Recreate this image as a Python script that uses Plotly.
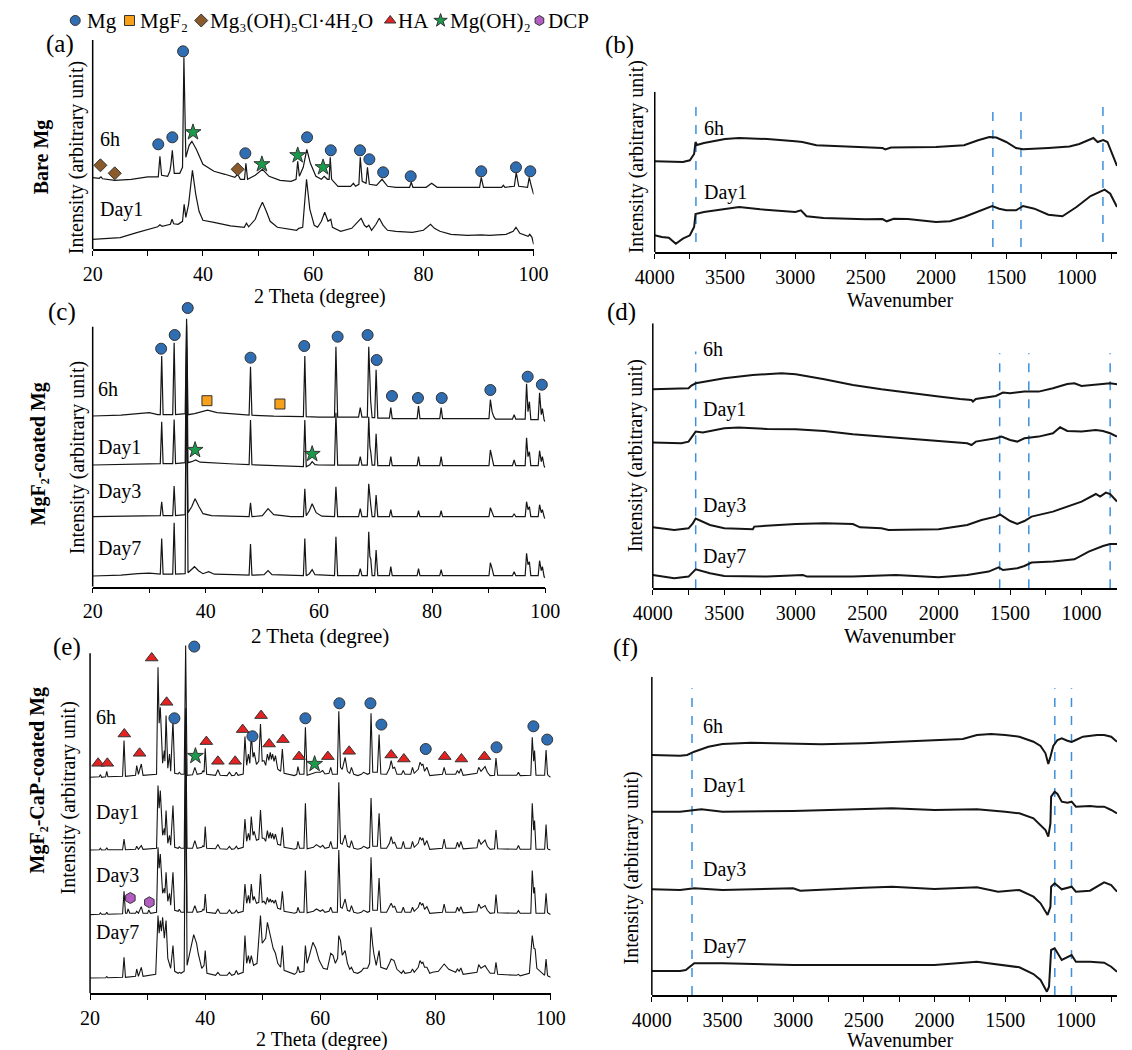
import plotly.graph_objects as go

W, H = 1132, 1050
FONT = "Liberation Serif, Times New Roman, serif"

# ------------------------------------------------------------------ data
# XRD (a) Bare Mg : [2theta, intensity]
A_6H = [[20,71.7],[21.2,71],[21.5,72.5],[21.8,70.5],[24,69],[27,70],[30,72.5],[31.9,72.5],[32.2,93],[32.5,74],
        [33.6,73],[34.0,78],[34.2,85],[34.45,99],[34.8,76],[35.8,76],[36.3,82],[36.55,192],[36.9,92],[37.5,104],
        [38.0,108],[38.8,100],[40,85],[42,78],[44,75],[45.8,72],[46.3,75],[46.8,70],[47.55,70],[47.8,86],
        [48.1,70],[49.5,74],[50.8,80],[52,73],[54,69],[56,68],[56.9,70],[57.2,88],[57.5,73],[58.2,82],
        [58.85,100],[59.5,86],[60.5,73],[61.5,70],[62.0,73],[62.6,70],[62.9,70],[63.1,92],[63.35,70],[64.5,63],
        [66.8,63],[67.3,66],[67.7,63],[68.3,65],[68.55,92],[68.9,68],[69.6,66],[69.85,82],[70.2,65],[71.5,64],
        [72.5,70],[73.5,63],[75,62],[77.5,62],[77.8,67],[78.1,62],[80.5,62],[81.5,66],[82.5,62],[86,62],
        [90.2,62],[90.5,72],[90.9,62],[94.2,62],[94.5,64],[94.8,62],[96.5,63],[96.85,77],[97.3,63],[98.9,62],
        [99.2,72],[99.6,63],[100,55]]
A_DAY1 = [[20,10],[23,11],[25,11.7],[28,16.7],[30,20],[31.8,22.5],[32.2,24.5],[32.6,23],[34.1,25],[34.4,30],
          [34.7,25.5],[35.5,25],[36.3,28],[36.6,45],[36.9,32],[37.4,45],[38.1,79],[38.7,55],[39.3,38],[40,29],
          [42,27],[45,23.5],[47.5,22],[47.9,26],[48.3,22.5],[49.5,30],[50.2,40],[50.8,47],[51.5,38],[52.2,28],
          [53.5,22],[55,21],[57,19],[57.4,21],[58.1,22],[58.8,70],[59.4,40],[60.2,24],[60.8,22],[61.5,28],
          [62.1,37],[62.7,28],[63.2,30],[63.5,22],[65,18],[67,21],[68,27],[68.7,31],[69.3,24],[69.7,22],
          [70.1,24],[70.6,19],[71.4,25],[72.0,31],[72.7,24],[73.5,19],[75,18],[78,17],[80,19],[80.8,23],
          [81.3,25],[82,21],[83,18],[85,15],[88,14],[90.5,14.5],[92,14],[95,15],[96.3,18],[96.8,22],
          [97.5,16],[99,13],[99.3,15],[99.7,12],[100,5]]
A_MG = [[36.4,198],[31.9,105],[34.45,112],[47.7,96],[58.9,112],[63.2,99],[68.5,99],[70.2,90],[72.7,77],
        [77.7,73],[90.5,78],[96.8,82],[99.4,78]]
A_MG3 = [[21.4,84],[24.0,76],[46.3,80]]
A_MGOH = [[38.2,117],[50.7,85],[57.2,94],[61.8,82]]

# FTIR (b) Bare Mg : [wavenumber, intensity]
B_6H = [[4000,90.7],[3900,90],[3800,90],[3750,91.7],[3720,98],[3710,110],[3700,107],[3650,109],[3500,113],
        [3400,114],[3200,113],[3000,110.7],[2950,110],[2850,106.7],[2700,105.7],[2500,105],[2380,104],
        [2360,102.5],[2320,104.5],[2000,105],[1800,106.7],[1700,111.7],[1620,115],[1570,114.5],[1500,110],
        [1430,104],[1380,102.7],[1200,104],[1050,105.5],[980,108],[880,114],[850,110],[810,112],[780,110],
        [740,95],[712,86]]
B_DAY1 = [[4000,16.7],[3950,15],[3900,14.3],[3850,8.3],[3800,13.3],[3750,16.7],[3720,25],[3710,38],[3650,40],
          [3500,43.3],[3400,45],[3250,42.7],[3000,40],[2960,41.7],[2920,35.7],[2800,34],[2500,32.7],[2380,33],
          [2350,30.7],[2300,33.3],[2200,33],[2000,30],[1900,30.7],[1800,35],[1650,43.3],[1600,46],[1550,43.3],
          [1500,41.7],[1430,41.7],[1380,46],[1300,43.3],[1200,37.3],[1100,35.7],[1000,45],[900,56],[800,62.3],
          [760,58.3],[712,45]]
B_DASH = [3707, 1595, 1395, 812]

# XRD (c) MgF2-coated Mg
C_6H = [[20,170.7],[25,171.5],[28,173],[30,174],[31.5,172],[31.95,172],[32.2,230.7],[32.45,172],[34.15,172],
        [34.4,244],[34.65,172],[36.0,172.5],[36.35,173],[36.6,268],[36.85,172],[38,173],[40.3,176.5],[42,174],
        [45,173],[47.65,171.5],[47.9,220],[48.15,171.5],[52,170.5],[55,170],[57.25,170],[57.5,230.7],
        [57.75,170],[60,169.5],[62.75,169.5],[63.0,240],[63.3,169.5],[67.0,169.5],[67.3,179],[67.6,169.5],
        [68.55,169.5],[68.8,240],[69.0,190],[69.15,185],[69.4,169],[69.85,169],[70.1,217],[70.4,168.5],
        [72.45,168.5],[72.7,179],[72.95,168],[77.35,168],[77.6,180.7],[77.85,168],[81.35,168],[81.6,179],
        [81.85,168],[90.05,168],[90.3,187],[90.6,175],[90.9,170],[91.2,167.5],[94.2,167.5],[94.5,172],
        [94.8,167.5],[96.45,167.5],[96.7,203],[96.95,175],[97.2,185],[97.45,167],[98.75,167],[99.0,194],
        [99.3,172],[99.5,178],[99.8,166.7],[100,165]]
C_DAY1 = [[20,121.7],[25,122.5],[30,123.3],[31.95,123],[32.2,165],[32.45,123],[34.15,123],[34.4,167.3],
          [34.65,123],[36.35,124],[36.6,262],[36.85,124],[37.5,125],[38.2,126.7],[39,124.5],[40.3,124],
          [45,122.7],[47.65,122],[47.9,166.7],[48.15,122],[55,120],[57.25,120],[57.5,166.7],[57.75,120],
          [58.4,122],[58.8,125],[59.3,122],[60,121.7],[62.75,121.5],[63.0,174],[63.3,121.5],[67.0,121.5],
          [67.3,130],[67.6,121.5],[68.55,121.5],[68.8,170],[69.0,140],[69.15,135],[69.4,121.5],[69.85,121.5],
          [70.1,153],[70.4,121],[72.45,121],[72.7,130],[72.95,121],[77.35,121],[77.6,130],[77.85,121],
          [81.35,121],[81.6,130],[81.85,121],[90.05,121],[90.3,136.7],[90.6,128],[90.9,121],[94.2,121],
          [94.5,126.7],[94.8,121],[96.45,121],[96.7,149],[96.95,130],[97.2,135],[97.45,121],[98.75,121],
          [99.0,136],[99.3,125],[99.5,130],[99.8,120.7],[100,119]]
C_DAY3 = [[20,70],[25,70.5],[30,71.5],[31.95,71],[32.2,85],[32.45,71],[34.15,71],[34.4,100.7],[34.65,71],
          [36.35,72],[36.6,225],[36.85,74],[37.5,80],[38.1,88],[38.8,80],[39.5,73],[41,71],[45,70.5],
          [47.65,70],[47.9,84],[48.15,70],[50,71],[51,78],[52,72],[55,70],[57.25,70],[57.5,98],[57.75,71],
          [58.3,76],[58.8,83],[59.5,74],[60.5,70.5],[62.75,70],[63.0,100],[63.3,70],[67.0,70],[67.3,78],
          [67.6,70],[68.55,70],[68.8,103],[69.0,85],[69.15,82],[69.4,70],[69.85,70],[70.1,91.7],[70.4,70],
          [72.45,70],[72.7,77],[72.95,70],[77.35,70],[77.6,76],[77.85,70],[81.35,70],[81.6,76],[81.85,70],
          [90.05,70],[90.3,79],[90.6,74],[90.9,70],[94.2,70],[94.5,73],[94.8,70],[96.45,70],[96.7,85],
          [96.95,77],[97.2,80],[97.45,70],[98.75,70],[99.0,82],[99.3,74],[99.5,77],[99.8,70],[100,68]]
C_DAY7 = [[20,10.7],[25,11.5],[28,13],[30,13.5],[31.95,12.5],[32.2,48.3],[32.45,12.5],[34.15,12.5],[34.4,64],
          [34.65,12.5],[36.35,13],[36.6,240],[36.85,14],[37.5,17],[38,20],[38.7,16],[39.5,13],[40.5,15],
          [41.5,12.5],[45,12],[47.65,11.5],[47.9,42.7],[48.15,11.5],[50.3,12],[51,16],[51.7,12],[55,11],
          [57.25,11],[57.5,48.3],[57.75,11],[58.3,13],[58.8,17],[59.3,12],[62.75,11],[63.0,50],[63.3,11],
          [67.0,11],[67.3,18],[67.6,11],[68.55,11],[68.8,55],[69.0,30],[69.15,28],[69.4,11],[69.85,11],
          [70.1,36.7],[70.4,11],[72.45,11],[72.7,20],[72.95,11],[77.35,11],[77.6,18],[77.85,11],[81.35,11],
          [81.6,17],[81.85,11],[90.05,11],[90.3,24],[90.6,18],[90.9,11],[94.2,11],[94.5,15],[94.8,11],
          [96.45,11],[96.7,33.3],[96.95,22],[97.2,25],[97.45,11],[98.75,11],[99.0,26],[99.3,16],[99.5,20],
          [99.8,10],[100,9]]
C_MG = [[32.1,238],[34.5,251.7],[36.8,278.7],[47.9,229],[57.4,240.7],[63.3,250],[68.6,251.7],[70.2,226.7],
        [72.9,190.7],[77.5,188.7],[81.7,188.7],[90.3,196.7],[96.9,210],[99.4,202]]
C_MGF2 = [[40.2,186],[53.1,182.7]]
C_MGOH = [[38.1,136.7],[58.8,132.7]]

# FTIR (d) MgF2-coated Mg
D_6H = [[4000,199],[3800,200],[3750,200],[3730,202.7],[3700,205],[3500,210],[3300,213.3],[3100,215],[3000,214],
        [2800,209],[2600,203.3],[2400,199],[2200,195],[2000,191.7],[1850,189.3],[1770,188.3],[1760,186.7],
        [1740,189.3],[1600,192.3],[1550,195.7],[1500,195],[1400,196.7],[1300,196.7],[1200,200],[1100,204.3],
        [1050,205],[1000,202.3],[900,204],[800,205],[752,204]]
D_DAY1 = [[4000,145.7],[3800,145],[3750,146.7],[3720,153.3],[3700,156.7],[3650,155.7],[3500,160],[3400,160.7],
          [3200,159.3],[3000,159],[2800,157.3],[2600,154],[2400,151.7],[2200,149.3],[2000,146.7],[1800,145],
          [1770,143.3],[1740,146.7],[1600,150],[1560,151.7],[1500,148.3],[1450,146.7],[1400,150],[1300,151.7],
          [1200,155],[1150,161],[1100,157.3],[1000,156.7],[900,158.3],[850,157.3],[800,155],[752,151.7]]
D_DAY3 = [[4000,61],[3850,58.3],[3750,60],[3720,65],[3700,69.7],[3600,63.3],[3500,60],[3300,59],[3290,61.7],
          [3000,64.3],[2800,65],[2600,64.3],[2550,61],[2400,60],[2350,58.3],[2000,59],[1800,63.3],[1700,68.3],
          [1600,71.7],[1570,74],[1500,67.3],[1450,64.3],[1400,67.3],[1350,71.7],[1200,76.7],[1000,86.7],
          [900,94.3],[870,91.7],[830,95.7],[800,94.3],[752,86.7]]
D_DAY7 = [[4000,13.3],[3850,10],[3750,11.7],[3720,15.7],[3700,19],[3600,15],[3500,12.3],[3200,11.7],
          [2950,13.3],[2920,11.7],[2600,11.7],[2300,13.3],[2000,11],[1800,13.3],[1650,16.7],[1580,21],
          [1550,18.3],[1450,20],[1400,22.3],[1350,25.7],[1200,26.7],[1050,29],[950,36.7],[850,42.3],
          [800,44.3],[752,44.3]]
D_DASH = [3700, 1573, 1369, 800]

# XRD (e) MgF2-CaP-coated Mg
E_6H = [[20,216],[21.6,216.5],[21.8,218.7],[22.0,216],[22.7,216.5],[22.9,222],[23.1,216.5],[25.65,217],
        [25.9,252.7],[26.15,217],[27.9,218],[28.1,227.7],[28.4,219],[28.9,229.3],[29.2,218],[31.55,219],
        [31.8,326],[32.0,270],[32.2,286],[32.6,230],[32.9,242.7],[33.0,232],[33.2,277.7],[33.5,225],
        [33.8,239.3],[34.0,222],[34.4,272.7],[34.7,220],[35.3,219.3],[35.5,221],[35.8,219],[36.35,219],
        [36.6,347.7],[36.85,218],[37.8,218.5],[38.2,226],[38.6,219],[39.4,220],[39.6,222.7],[39.8,221],
        [40.0,245],[40.25,219],[41.8,218],[42.2,223.7],[42.6,218],[43.8,217.7],[44.2,221],[44.6,217.7],
        [45.1,218],[45.4,221],[45.7,218],[46.6,219.3],[46.9,256.7],[47.2,228],[47.5,239.3],[47.75,230],
        [48.0,258.7],[48.3,236],[48.5,241],[48.9,229],[49.3,232],[49.6,269.3],[49.9,232],[50.2,232.7],
        [50.5,228],[50.8,239.3],[51.05,233],[51.3,241],[51.5,234],[51.7,239.3],[51.95,232],[52.2,237.7],
        [52.6,224],[53.1,222],[53.4,244.3],[53.7,220],[55.5,217.7],[55.9,219],[56.1,226.7],[56.4,219],
        [57.15,219],[57.4,266],[57.7,218],[58.8,220],[59.3,221],[60.0,221],[60.4,222.7],[60.8,219.3],
        [61.5,220],[61.8,226],[62.1,219],[62.95,219],[63.2,282],[63.5,226],[63.8,224],[64.3,236],[64.7,222],
        [65.1,220],[65.4,226],[65.8,219],[66.5,217.7],[67.1,219],[67.5,221],[68.2,219],[68.55,220],[68.8,280],
        [69.1,221],[69.9,221],[70.2,258.7],[70.5,219.3],[71.5,219],[72.0,225],[72.3,232.7],[72.6,225],
        [72.9,226],[73.3,219],[74.1,219],[74.4,222.7],[74.7,219],[75.7,219],[76.0,226],[76.3,220],[77.0,224],
        [77.3,231],[77.6,228],[77.8,229.3],[78.1,222],[78.5,226],[79.0,217.7],[81.2,219],[81.5,226],[81.8,219],
        [83.5,219],[83.8,222.7],[84.1,220],[84.4,224.7],[84.8,218],[87.2,220],[87.5,226],[87.9,222],
        [88.6,226.7],[89.0,221],[89.5,217.7],[90.25,218],[90.5,235.3],[90.8,218],[94.1,218],[94.4,221],
        [94.7,217.7],[96.55,218],[96.8,256],[97.05,232],[97.2,242.7],[97.45,218],[98.95,218],[99.2,243.3],
        [99.45,219],[99.6,217.7],[100,216]]
E_DAY1 = [[20,143.3],[21.6,143.5],[21.8,145],[22.0,143.3],[22.7,143.5],[22.9,145.5],[23.1,143.5],[25.65,143.5],
          [25.9,154.3],[26.15,143.5],[27.9,144],[28.1,147],[28.4,144],[28.9,147.7],[29.2,144],[31.55,145],
          [31.8,207.7],[32.0,185],[32.2,202.7],[32.6,158],[32.9,165],[33.0,158],[33.2,182.7],[33.5,150],
          [33.8,158],[34.0,148],[34.4,187.7],[34.7,146],[35.3,145],[35.5,146.5],[35.8,145],[36.35,145],
          [36.6,285],[36.85,145],[37.8,145],[38.2,152.7],[38.6,145],[39.4,146],[39.6,147.5],[39.8,146.5],
          [40.0,166.7],[40.25,145],[41.8,144.5],[42.2,148.7],[42.6,144.5],[43.8,144],[44.2,147],[44.6,144],
          [45.1,144.5],[45.4,147],[45.7,144.5],[46.6,146],[46.9,174.3],[47.2,152],[47.5,160],[47.75,153],
          [48.0,176.7],[48.3,158],[48.5,162],[48.9,153],[49.3,154],[49.6,183.3],[49.9,155],[50.2,155],
          [50.5,152],[50.8,162.7],[51.05,155],[51.3,161],[51.5,155],[51.7,160],[51.95,154],[52.2,159.3],
          [52.6,149],[53.1,148],[53.4,166],[53.7,146],[55.5,144],[55.9,145],[56.1,152],[56.4,145],[57.15,145],
          [57.4,190],[57.7,144.5],[58.8,146],[59.3,148.7],[60.0,146],[60.4,148],[60.8,145],[61.5,146],
          [61.8,152],[62.1,145],[62.95,145],[63.2,211],[63.5,150],[63.8,149],[64.3,158.3],[64.7,147],
          [65.1,146],[65.4,152.7],[65.8,145],[66.5,144],[67.1,145],[67.5,147],[68.2,145],[68.55,146],
          [68.8,195.3],[69.1,147],[69.9,147],[70.2,180],[70.5,145],[71.5,145],[72.0,150],[72.3,156.7],
          [72.6,150],[72.9,151],[73.3,145],[74.1,145],[74.4,152],[74.7,145],[75.7,145],[76.0,152],[76.3,146],
          [77.0,150],[77.3,156],[77.6,153],[77.8,155.3],[78.1,148],[78.5,152.7],[79.0,144],[81.2,145],
          [81.5,154.3],[81.8,145],[83.5,145],[83.8,151],[84.1,146],[84.4,152],[84.8,144.5],[87.2,145.5],
          [87.5,154],[87.9,149],[88.6,153.3],[89.0,147],[89.5,144],[90.25,144.5],[90.5,163.3],[90.8,144.5],
          [94.1,144],[94.4,147.7],[94.7,144],[96.55,144],[96.8,190],[97.05,163],[97.2,172.7],[97.45,144],
          [98.95,144],[99.2,168.7],[99.45,145],[99.6,144],[100,143.3]]
E_DAY3 = [[20,78.7],[21.6,79],[21.8,80.5],[22.0,79],[22.7,79],[22.9,81],[23.1,79],[25.65,79.5],[25.9,102],
          [26.15,80],[26.4,80],[26.6,84.3],[26.9,80],[27.9,80],[28.1,82],[28.4,80],[28.9,86.7],[29.2,80],
          [30.0,80],[30.2,83.3],[30.5,80],[31.55,81],[31.8,146],[32.0,125],[32.2,139.3],[32.6,100],[32.9,105],
          [33.0,100],[33.2,121],[33.5,92],[33.8,100],[34.0,88],[34.4,121],[34.7,83],[35.3,82],[35.5,84],
          [35.8,81],[36.35,81],[36.6,230],[36.85,81],[37.8,81],[38.2,87.7],[38.6,81],[39.4,82],[39.6,84],
          [39.8,83],[40.0,99.3],[40.25,81],[41.8,80],[42.2,84.3],[42.6,80],[43.8,80],[44.2,83.3],[44.6,80],
          [45.1,80.5],[45.4,83],[45.7,80.5],[46.6,82],[46.9,109.3],[47.2,90],[47.5,98],[47.75,90],[48.0,109.3],
          [48.3,93],[48.5,97],[48.9,90],[49.3,91],[49.6,119.3],[49.9,91],[50.2,92],[50.5,89],[50.8,96],
          [51.05,91],[51.3,94.3],[51.5,91],[51.7,93],[51.95,90],[52.2,93.3],[52.6,85],[53.1,84],[53.4,102],
          [53.7,82],[55.5,80],[55.9,81],[56.1,86],[56.4,81],[57.15,81],[57.4,122.7],[57.7,80.5],[58.8,82],
          [59.3,84.3],[60.0,82],[60.4,83.5],[60.8,81],[61.5,82],[61.8,86],[62.1,81],[62.95,81],[63.2,143.3],
          [63.5,86],[63.8,85],[64.3,94.3],[64.7,83],[65.1,82],[65.4,87.7],[65.8,81],[66.5,80],[67.1,81],
          [67.5,83],[68.2,81],[68.55,82],[68.8,136],[69.1,83],[69.9,83],[70.2,115.3],[70.5,81],[71.5,81],
          [72.0,86],[72.3,90],[72.6,86],[72.9,87],[73.3,81],[74.1,81],[74.4,86],[74.7,81],[75.7,81],[76.0,86],
          [76.3,82],[77.0,86],[77.3,91],[77.6,88],[77.8,90],[78.1,84],[78.5,86.7],[79.0,80],[81.2,81],
          [81.5,89.3],[81.8,81],[83.5,81],[83.8,86],[84.1,82],[84.4,86.7],[84.8,80.5],[87.2,81.5],[87.5,89.3],
          [87.9,85],[88.6,87.7],[89.0,83],[89.5,80],[90.25,80.5],[90.5,98.7],[90.8,80.5],[94.1,80],[94.4,82.7],
          [94.7,80],[96.55,80],[96.8,122.7],[97.05,100],[97.2,106],[97.45,80],[98.95,80],[99.2,100],
          [99.45,81],[99.6,80],[100,78.7]]
E_DAY7 = [[20,15.3],[22.7,15.5],[22.9,16.7],[23.1,15.5],[25.65,16],[25.9,36],[26.15,16],[27.9,17],[28.1,24.3],
          [28.4,17],[28.9,26],[29.2,17],[31.4,19],[31.8,77.7],[32.0,60],[32.2,72.7],[32.4,62],[32.6,76],
          [32.9,55],[33.2,72.7],[33.5,35],[34.0,25],[34.4,47.7],[34.7,22],[35.3,20],[35.5,21],[35.8,20],
          [36.35,22],[36.6,250],[36.85,28],[37.3,40],[38.0,58.7],[38.5,50],[38.8,39.3],[39.4,25],[39.8,28],
          [40.0,42.7],[40.3,20],[41.8,18],[42.2,21],[42.6,18],[43.8,18],[44.2,21],[44.6,18],[45.1,19],
          [45.4,22.7],[45.7,19],[46.6,21],[46.9,57.7],[47.2,30],[47.5,37.7],[47.75,30],[48.0,37.7],[48.4,28],
          [49.0,30],[49.6,77.7],[49.9,50],[50.2,52.7],[50.5,55],[50.8,71],[51.2,60],[51.5,51],[51.8,45],
          [52.2,40],[52.6,30],[53.1,26],[53.4,47.7],[53.7,23],[55.5,19],[55.9,21],[56.1,27],[56.4,21],
          [57.15,22],[57.4,47.7],[57.7,30],[58.2,40],[58.7,51],[59.2,45],[59.8,32.7],[60.5,25],[61.2,24],
          [61.8,40],[62.2,38],[62.6,30],[63.0,35],[63.2,57.7],[63.5,52.7],[63.8,38],[64.3,42.7],[64.7,30],
          [65.1,24],[65.4,26],[65.8,21],[66.5,20],[67.1,22],[67.5,25],[68.2,25],[68.55,30],[68.8,66],
          [69.1,48],[69.3,39.3],[69.7,28],[70.2,42.7],[70.5,26],[71.5,24],[72.0,30],[72.3,34.3],[72.8,32.7],
          [73.3,24],[74.1,20],[74.4,22.7],[74.7,20],[75.7,21],[76.0,24.3],[76.3,21],[77.0,26],[77.3,32.7],
          [77.6,30],[77.8,31],[78.1,26],[78.5,26],[79.0,20],[79.5,21],[80.5,22],[81.5,29.3],[82.3,24],
          [83.5,21],[83.8,24.3],[84.1,22],[84.4,25.3],[84.8,19],[87.2,21],[87.5,28.7],[87.9,25],[88.6,27.7],
          [89.0,24],[89.5,20],[90.25,20],[90.5,31],[90.8,19],[94.1,18],[94.4,19],[94.7,17.5],[96.3,20],
          [96.8,57.7],[97.1,45],[97.3,44.3],[97.6,25],[98.95,18],[99.2,34.3],[99.45,18],[99.6,17],[100,16]]
E_MG = [[38.1,346.7],[34.65,275],[48.2,257],[57.4,275],[63.3,290],[68.7,290],[70.6,268.7],[78.3,244.3],
        [90.6,246],[97.0,267],[99.4,253.7]]
E_HA = [[21.4,230],[23.0,230],[25.95,259.3],[28.6,240],[30.7,335.3],[33.3,291],[40.2,251.7],[42.2,232],
        [45.2,232],[46.5,263.7],[49.7,277.7],[51.1,249.3],[53.5,253.7],[56.3,236.7],[61.3,236.7],[65.0,242],
        [72.3,238.3],[74.5,234.3],[81.6,236.7],[84.5,234.3],[88.5,236.7]]
E_MGOH = [[38.3,237.3],[59.0,229.3]]
E_DCP = [[27.0,95.3],[30.3,91]]

# FTIR (f) MgF2-CaP-coated Mg
F_6H = [[4000,240],[3800,239.3],[3750,240],[3700,243.3],[3600,248.3],[3500,251],[3300,252.3],[3000,251.7],
        [2800,250.7],[2500,251.7],[2200,253.3],[2000,255],[1800,256],[1700,260],[1600,261],[1500,260],
        [1400,258.3],[1300,253.3],[1250,249],[1215,241.7],[1195,231],[1180,238.3],[1160,249],[1130,255],
        [1100,256.7],[1060,254.3],[1030,253],[1000,255],[950,258.3],[850,260],[800,260],[750,258.3],[709,253.3]]
F_DAY1 = [[4000,183.3],[3800,183.3],[3650,185.7],[3500,183.3],[3000,184],[2500,186],[2300,186.7],[2000,185],
          [1700,185.7],[1500,183.3],[1400,181.7],[1300,176.7],[1250,170],[1215,165],[1195,158.3],[1180,171.7],
          [1175,198.3],[1150,203.3],[1130,201],[1100,193.3],[1060,192.3],[1030,193.3],[1000,188.3],[900,189],
          [850,188.3],[800,188.3],[750,185],[709,181.7]]
F_DAY3 = [[4000,105.7],[3800,105],[3700,106.7],[3500,105],[3000,106.7],[2950,104.3],[2500,107.3],[2300,108.3],
          [2000,106],[1700,107.7],[1550,103.3],[1400,105],[1300,98.3],[1250,91.7],[1200,80],[1180,88.3],
          [1175,108.3],[1150,111.7],[1100,105.7],[1030,108.3],[1000,103.3],[900,104.3],[800,112.7],[750,110],
          [709,103.3]]
F_DAY7 = [[4000,24],[3800,24],[3760,25],[3720,29],[3700,31.7],[3500,31.7],[3000,30],[2500,30],[2000,30],
          [1700,33.3],[1500,30],[1400,27.7],[1300,21],[1250,15],[1205,3.3],[1190,8.3],[1175,45],[1150,46.7],
          [1100,35],[1030,40],[1000,33.3],[900,33.3],[800,32.3],[750,28.3],[709,23.3]]
F_DASH = [3716, 1149, 1031]

SAMPLES_2 = ["6h", "Day1"]
SAMPLES_4 = ["6h", "Day1", "Day3", "Day7"]

# label anchor points [x, intensity]
A_LAB = [[21.0, 110], [21.0, 40]]
B_LAB = [[3662, 124], [3662, 59.3]]
C_LAB = [[20.6, 197.3], [20.6, 139], [20.6, 95], [20.6, 38.3]]
D_LAB = [[3660, 239], [3660, 179], [3660, 83.3], [3660, 31.7]]
E_LAB = [[20.7, 276.7], [20.7, 181], [20.7, 117.7], [20.7, 61]]
F_LAB = [[3649, 269], [3649, 210], [3649, 125.7], [3649, 49]]

# phase key (top row)
KEY_NAMES = ["Mg", "MgF₂", "Mg₃(OH)₅Cl·4H₂O", "HA", "Mg(OH)₂", "DCP"]

# ------------------------------------------------------------------ styling / geometry (pixels)
C_MGC = "#2f6eb3"
C_SQ = "#f7a11a"
C_DIA = "#8b5a2b"
C_TRI = "#e32322"
C_STAR = "#1c9a4b"
C_DCP = "#b35cc2"
DASH_C = "#3d8fdc"
KEY_STYLE = [("circle", C_MGC), ("square", C_SQ), ("diamond", C_DIA),
             ("triangle-up", C_TRI), ("star", C_STAR), ("hexagon", C_DCP)]
KEY_SYM_PX = [57, 113, 187, 382, 434, 536]
KEY_TXT_PX = [67, 122, 194, 388, 442, 543]

# left, right, bottom, domain-top, axis-line-top
GEOM = {
    1: (75, 530, 249.3, 40, 40),
    2: (655, 1132, 252.0, 91.7, 91.7),
    3: (75, 542, 586.7, 296, 326.7),
    4: (653, 1132, 588.3, 323.3, 323.3),
    5: (72.3, 547.6, 993.3, 640, 653.3),
    6: (652, 1132, 995, 676.7, 676.7),
}
XRANGE = {1: [20, 100], 2: [4000, 712], 3: [20, 100], 4: [4000, 752], 5: [20, 100], 6: [4000, 709]}


def px(x):
    return x / W


def py(y):
    return 1 - y / H


fig = go.Figure()


def ax(n):
    return ("x" if n == 1 else f"x{n}"), ("y" if n == 1 else f"y{n}")


def add_line(n, pts, width):
    xa, ya = ax(n)
    fig.add_trace(go.Scatter(x=[p[0] for p in pts], y=[p[1] for p in pts], mode="lines",
                             line=dict(color="#151515", width=width), xaxis=xa, yaxis=ya,
                             showlegend=False, hoverinfo="skip"))


def add_marks(n, pts, symbol, color, size):
    xa, ya = ax(n)
    fig.add_trace(go.Scatter(x=[p[0] for p in pts], y=[p[1] for p in pts], mode="markers",
                             marker=dict(symbol=symbol, color=color, size=size,
                                         line=dict(color="#333333", width=1)),
                             xaxis=xa, yaxis=ya, cliponaxis=False, showlegend=False,
                             hoverinfo="skip"))


for pts in (A_6H, A_DAY1):
    add_line(1, pts, 1.2)
for pts in (B_6H, B_DAY1):
    add_line(2, pts, 2.0)
for pts in (C_6H, C_DAY1, C_DAY3, C_DAY7):
    add_line(3, pts, 1.2)
for pts in (D_6H, D_DAY1, D_DAY3, D_DAY7):
    add_line(4, pts, 2.0)
for pts in (E_6H, E_DAY1, E_DAY3, E_DAY7):
    add_line(5, pts, 1.1)
for pts in (F_6H, F_DAY1, F_DAY3, F_DAY7):
    add_line(6, pts, 2.0)

add_marks(1, A_MG, "circle", C_MGC, 11)
add_marks(1, A_MG3, "diamond", C_DIA, 10)
add_marks(1, A_MGOH, "star", C_STAR, 12)
add_marks(3, C_MG, "circle", C_MGC, 11)
add_marks(3, C_MGF2, "square", C_SQ, 10)
add_marks(3, C_MGOH, "star", C_STAR, 12)
add_marks(5, E_MG, "circle", C_MGC, 11)
add_marks(5, E_HA, "triangle-up", C_TRI, 11)
add_marks(5, E_MGOH, "star", C_STAR, 12)
add_marks(5, E_DCP, "hexagon", C_DCP, 11)

layout = dict(width=W, height=H, margin=dict(l=0, r=0, t=0, b=0),
              paper_bgcolor="white", plot_bgcolor="white", showlegend=False,
              font=dict(family=FONT, size=21, color="black"))

shapes = []
annotations = []
for n, (l, r, b, dt, lt) in GEOM.items():
    xk = "xaxis" if n == 1 else f"xaxis{n}"
    yk = "yaxis" if n == 1 else f"yaxis{n}"
    xa, ya = ax(n)
    ftir = n % 2 == 0
    layout[xk] = dict(domain=[px(l), px(r)], range=XRANGE[n], anchor=ya,
                      showline=True, linecolor="black", linewidth=1.5,
                      ticks="outside", ticklen=5, tickwidth=1, tickcolor="black",
                      tick0=0 if ftir else 20, dtick=500 if ftir else 20,
                      ticklabelstandoff=1,
                      minor=dict(dtick=250 if ftir else 10, ticks="outside", ticklen=5,
                                 tickcolor="black", tickwidth=1, showgrid=False),
                      showgrid=False, zeroline=False,
                      tickfont=dict(family=FONT, size=20, color="black"))
    layout[yk] = dict(domain=[py(b), py(dt)], range=[0, b - dt], anchor=xa,
                      showline=False, showticklabels=False, ticks="", showgrid=False, zeroline=False)
    shapes.append(dict(type="line", xref=f"{xa} domain", yref=ya, x0=0, x1=0, y0=0, y1=b - lt,
                       line=dict(color="black", width=1.5)))

# key axis (top row, pixel units)
layout["xaxis7"] = dict(domain=[0, 1], range=[0, W], visible=False, anchor="y7")
layout["yaxis7"] = dict(domain=[py(40), 1], range=[40, 0], visible=False, anchor="x7")
for (sym, col), xs in zip(KEY_STYLE, KEY_SYM_PX):
    fig.add_trace(go.Scatter(x=[xs], y=[20.5], mode="markers", xaxis="x7", yaxis="y7",
                             marker=dict(symbol=sym, color=col, size=10, line=dict(color="#333333", width=1)),
                             showlegend=False, hoverinfo="skip", cliponaxis=False))
for name, xt in zip(KEY_NAMES, KEY_TXT_PX):
    annotations.append(dict(text=name, x=xt, y=21, xref="x7", yref="y7", xanchor="left", yanchor="middle",
                            showarrow=False, font=dict(family=FONT, size=21, color="black")))

# dashed reference lines
for n, pos, lo, hi in ((2, B_DASH, [10, 5, 5, 10], [148.3, 143.3, 143.3, 147.7]),
                       (4, D_DASH, [0, 0, 0, 0], [236.7, 235, 235, 235]),
                       (6, F_DASH, [0, 0, 0], [306.7, 306.7, 306.7])):
    xa, ya = ax(n)
    for v, y0, y1 in zip(pos, lo, hi):
        shapes.append(dict(type="line", xref=xa, yref=ya, x0=v, x1=v, y0=y0, y1=y1,
                           line=dict(color=DASH_C, width=1.5, dash="dash"), layer="below"))

# sample labels
for n, labs, names in ((1, A_LAB, SAMPLES_2), (2, B_LAB, SAMPLES_2), (3, C_LAB, SAMPLES_4),
                       (4, D_LAB, SAMPLES_4), (5, E_LAB, SAMPLES_4), (6, F_LAB, SAMPLES_4)):
    xa, ya = ax(n)
    for (x, y), t in zip(labs, names):
        annotations.append(dict(text=t, x=x, y=y, xref=xa, yref=ya, xanchor="left", yanchor="middle",
                                showarrow=False, font=dict(family=FONT, size=20, color="black")))


def paper_text(t, x, y, size, angle=0):
    annotations.append(dict(text=t, x=px(x), y=py(y), xref="paper", yref="paper", xanchor="center",
                            yanchor="middle", showarrow=False, textangle=angle,
                            font=dict(family=FONT, size=size, color="black")))


# panel letters
for t, x, y in (("(a)", 41, 44), ("(b)", 619, 45), ("(c)", 43, 312), ("(d)", 621, 312),
                ("(e)", 48, 647), ("(f)", 625, 648)):
    paper_text(t, x, y, 25)

# axis titles
for x, y, s in ((310, 296.5, 20), (310, 636, 21), (312, 1039.5, 20)):
    paper_text("2 Theta (degree)", x, y, s)
for x, y, s in ((908, 299.5, 20), (908, 636, 21), (908, 1039.5, 20)):
    paper_text("Wavenumber", x, y, s)
for x, y in ((59, 158), (637, 157), (59, 458), (635, 456), (50, 798), (630, 868)):
    paper_text("Intensity (arbitrary unit)", x, y, 20, -90)
paper_text("<b>Bare Mg</b>", 23, 157, 20, -90)
paper_text("<b>MgF₂-coated Mg</b>", 20, 454, 20, -90)
paper_text("<b>MgF₂-CaP-coated Mg</b>", 18, 780, 20, -90)

layout["shapes"] = shapes
layout["annotations"] = annotations

fig.update_layout(**layout)
fig.write_html("out.html", config={"displayModeBar": False},
               post_script="document.body.style.margin='0';document.body.style.overflow='hidden';")
